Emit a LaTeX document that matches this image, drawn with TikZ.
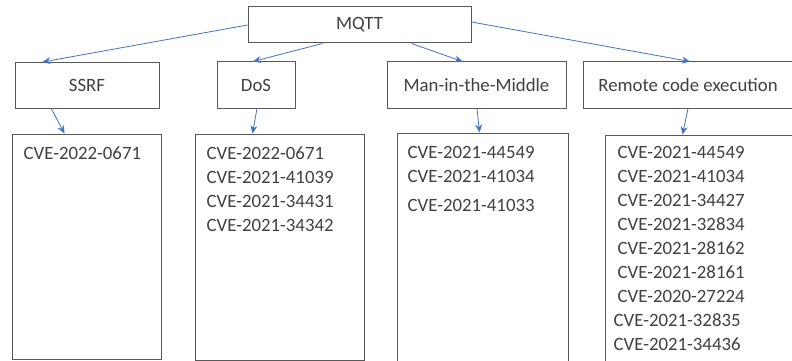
\documentclass[tikz,border=0pt]{standalone}
\usepackage{fontspec}
\setmainfont{Carlito}
\usetikzlibrary{arrows.meta}
\definecolor{boxgray}{HTML}{595959}
\definecolor{txtgray}{HTML}{404040}
\definecolor{arrblue}{HTML}{4472C4}

\begin{document}
\begin{tikzpicture}[
		x=1pt, y=-1pt,
		every node/.style={font=\fontsize{18.8}{24}\selectfont, text=txtgray},
		head/.style={draw=boxgray, line width=1pt, inner sep=0pt, minimum height=46pt},
		cvebox/.style={draw=boxgray, line width=1pt, inner sep=0pt},
		cvelist/.style={align=left, inner sep=0pt, anchor=north west},
		link/.style={draw=arrblue, line width=0.8pt, -{Stealth[length=8pt,width=7pt]}}
		]
		\useasboundingbox (0,0) rectangle (792,361);
		% root
		\node[head, minimum width=223pt, minimum height=36pt] (mqtt) at (359.5,25) {MQTT};
		% attack types
		\node[head, minimum width=144pt] (ssrf) at (87,85.5) {SSRF};
		\node[head, minimum width=78pt] (dos) at (256,85) {DoS};
		\node[head, minimum width=179pt] (mitm) at (476.5,85) {Man-in-the-Middle};
		\node[head, minimum width=210pt] (rce) at (688,85) {Remote code execution};
		% cve boxes
		\node[cvebox, minimum width=149pt, minimum height=225pt] (ssrfbox) at (86.5,246.5) {};
		\node[cvebox, minimum width=169pt, minimum height=226pt] (dosbox) at (279.5,247) {};
		\node[cvebox, minimum width=171pt, minimum height=230pt] (mitmbox) at (482.5,248) {};
		\node[cvebox, minimum width=189pt, minimum height=232pt] (rcebox) at (699.5,251) {};
		% cve lists
		\node[cvelist] (ssrflist) at ([xshift=12pt,yshift=-13pt]ssrfbox.north west) {CVE-2022-0671};
		\node[cvelist] (doslist) at ([xshift=12pt,yshift=-13pt]dosbox.north west) {CVE-2022-0671\\CVE-2021-41039\\CVE-2021-34431\\CVE-2021-34342};
		\node[cvelist] (mitmlist) at ([xshift=11pt,yshift=-14pt]mitmbox.north west) {CVE-2021-44549\\CVE-2021-41034\\[5pt]CVE-2021-41033};
		\node[cvelist] (rcelist) at ([xshift=13pt,yshift=-12pt]rcebox.north west) {CVE-2021-44549\\CVE-2021-41034\\CVE-2021-34427\\CVE-2021-32834\\CVE-2021-28162\\CVE-2021-28161\\CVE-2020-27224\\\kern-4pt CVE-2021-32835\\\kern-4pt CVE-2021-34436};
		% arrows
		\draw[link] (mqtt.west) -- ([xshift=28pt]ssrf.north west);
		\draw[link] ([xshift=75pt]mqtt.south west) -- ([xshift=-3pt]dos.north);
		\draw[link] ([xshift=164pt]mqtt.south west) -- ([xshift=-14pt]mitm.north);
		\draw[link] ([yshift=3pt]mqtt.east) -- ([xshift=2pt]rce.north);
		\draw[link] ([xshift=37pt]ssrf.south west) -- ([xshift=53pt]ssrfbox.north west);
		\draw[link] ([xshift=1pt]dos.south) -- ([xshift=58pt]dosbox.north west);
		\draw[link] ([xshift=0.5pt]mitm.south) -- ([xshift=83pt]mitmbox.north west);
		\draw[link] ([xshift=0pt]rce.south) -- ([xshift=78pt]rcebox.north west);
		\end{tikzpicture}
\end{document}
